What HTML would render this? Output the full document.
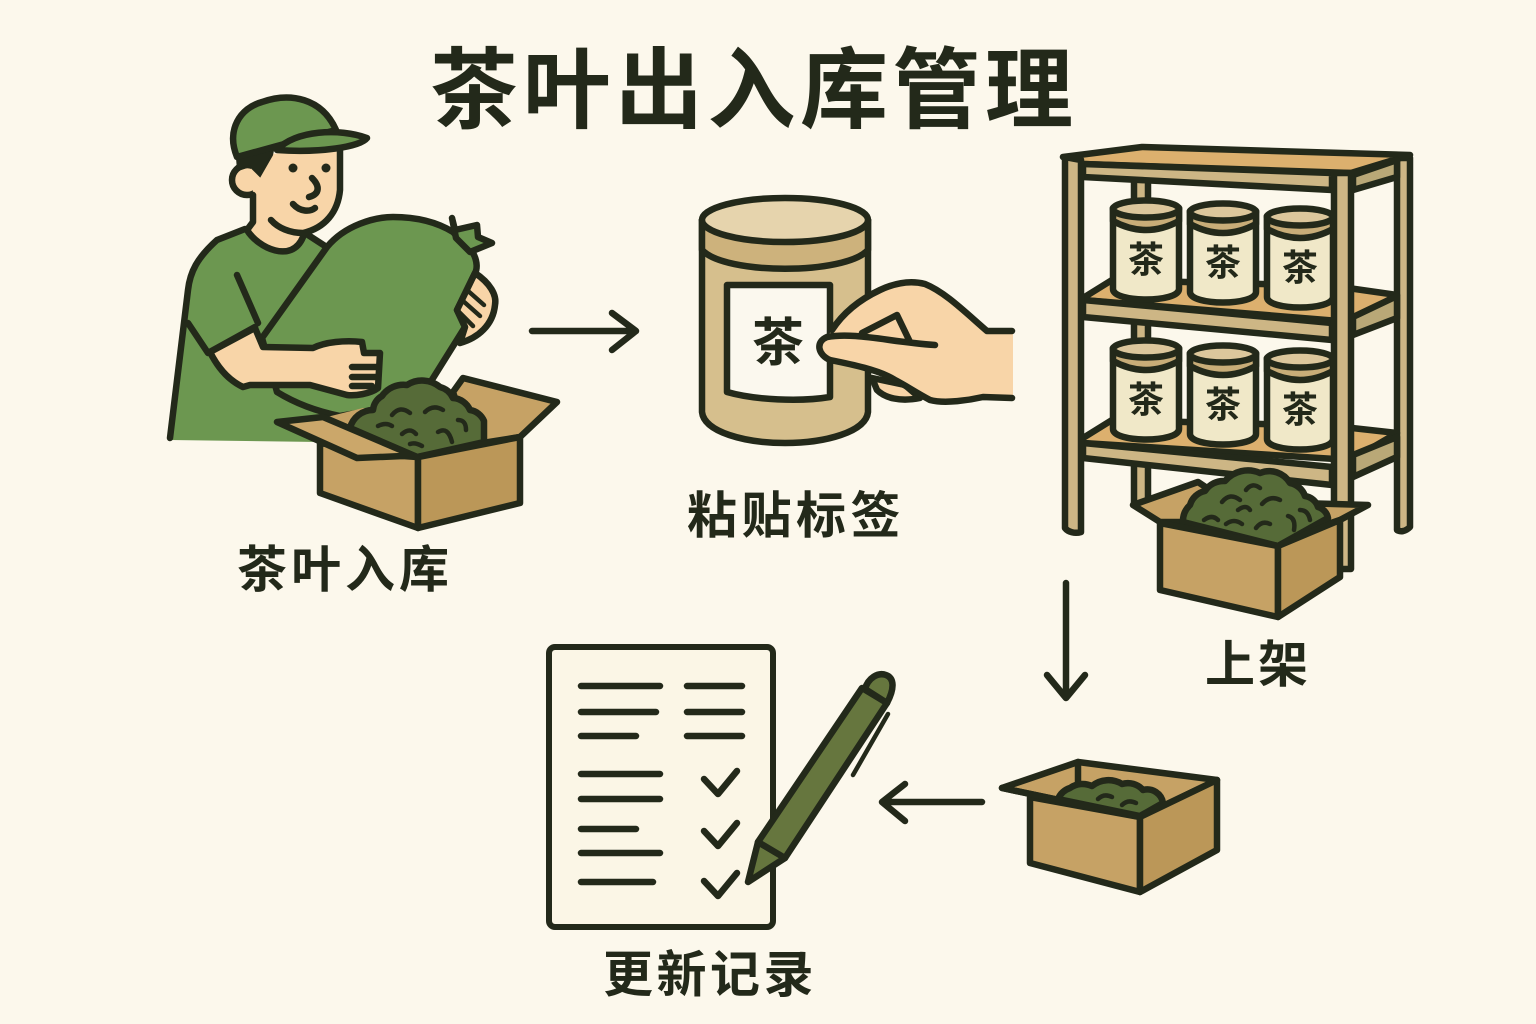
<!DOCTYPE html>
<html lang="zh"><head><meta charset="utf-8"><title>茶叶出入库管理</title>
<style>
html,body{margin:0;padding:0;background:#fcf8ec}
svg{display:block}
text{font-family:"Liberation Sans","Noto Sans CJK SC",sans-serif;fill:#23291a;font-weight:700}
.l{fill:none;stroke:#23291a;stroke-width:6.5;stroke-linecap:round;stroke-linejoin:round}
.s{stroke:#23291a;stroke-width:6.5;stroke-linejoin:round;stroke-linecap:round}
.t{fill:none;stroke:#23291a;stroke-width:4.5;stroke-linecap:round;stroke-linejoin:round}
.k{fill:#c6a265}.k2{fill:#bb9758}.w{fill:#cdb685}.o{fill:#dcb06e}
.g{fill:#6c9750}.p{fill:#566b38}.sk{fill:#f8d5a8}
</style></head><body>
<svg width="1536" height="1024" viewBox="0 0 1536 1024" xmlns="http://www.w3.org/2000/svg">
<defs>
<g id="jar">
<path class="s" fill="#f0e8c8" d="M-33 7V88C-33 102 33 102 33 88V7Z"/>
<path class="s" fill="#c8ad78" d="M-33 7V20Q0 38 33 20V7Z"/>
<ellipse class="s" cx="0" cy="8" rx="33" ry="8.5" fill="#dcc79c"/>
<text x="0" y="71" font-size="36" text-anchor="middle">茶</text>
</g>
</defs>
<rect width="1536" height="1024" fill="#fcf8ec"/>
<text x="430" y="121" font-size="88" letter-spacing="4.5">茶叶出入库管理</text>

<!-- worker -->
<path class="g" d="M170 440L188 290C190 272 197 258 217 237L243 228L307 233L327 247L340 420L320 442Z"/>
<path class="l" d="M170 438L188 290C190 272 197 258 217 240L245 229M305 233L325 246"/>
<circle class="s sk" cx="247" cy="180" r="15"/>
<path class="sk" d="M250 155L340 150V190C338 215 320 232 303 235C300 250 285 256 275 252C262 246 252 238 250 228L253 222V193Z"/>
<path class="l" d="M340 150V190C338 212 325 228 303 233C290 233 278 228 271 220M253 195V222L247 230C258 248 292 264 303 237"/>
<path fill="#23291a" stroke="#23291a" stroke-width="2" d="M237 158L274 146L272 155L260 176L250 166L238 170Z"/>
<path class="s g" d="M237 157C226 130 240 108 262 102C290 92 322 98 336 130L277 146Z"/>
<path class="s g" d="M277 150C295 130 340 128 367 138C360 147 320 153 277 150Z"/>
<circle cx="293" cy="168" r="4.5" fill="#23291a"/><circle cx="326" cy="168" r="4.5" fill="#23291a"/>
<path class="l" stroke-width="6" d="M312 178C320 186 320 194 309 197M293 204C300 212 310 212 315 208"/>
<path class="s g" d="M262 338L327 247C345 225 375 217 393 217C420 217 440 224 453 232L473 253C478 262 477 270 475 273L457 310L465 327L430 383L420 402L340 416C310 410 290 400 277 392Z"/>
<path class="s g" d="M452 218L455 230L477 225L478 237L492 243L470 252L456 238Z"/>
<path class="s sk" d="M475 273C490 283 497 295 495 305C493 325 478 338 460 343L465 327L457 310Z"/>
<path class="t" d="M467 290L484 305M462 300L480 316M459 312L473 326"/>
<path class="s sk" d="M210 352L255 328L263 347L313 348C325 342 345 340 362 342L364 353H380L378 388C370 394 355 396 347 395L310 385H250L243 387C228 380 218 368 210 352Z"/>
<path class="l" d="M237 275L258 323M188 323L208 353L255 327M352 367H377M352 377H376M352 386H372"/>

<!-- box 1 -->
<path class="s k" d="M463 378L557 402L520 437L470 445L453 392Z"/>
<path class="k" d="M323 418L363 408L480 420L418 457Z"/>
<path class="s p" d="M350 428A24 24 0 0 1 373 410A18 18 0 0 1 382 396A26 26 0 0 1 407 385A28 28 0 0 1 440 387A20 20 0 0 1 453 398A20 20 0 0 1 470 410A18 18 0 0 1 484 421V442L417 457Z"/>
<path class="t" stroke-width="3.5" d="M392 415q8 -10 18 -2M425 412q8 -8 18 -2M378 426q8 -4 14 0M402 434q8 -7 14 0M438 432q10 -6 14 10M410 444q5 -2 12 2M458 420q8 0 8 10"/>
<path class="s k" d="M320 443L418 457V528L320 493Z"/>
<path class="s k2" d="M418 457L520 437V503L418 528Z"/>
<path class="s" fill="#cba76a" d="M277 422L323 417L417 457L403 456L357 458Z"/>
<text x="237" y="587" font-size="50" letter-spacing="4">茶叶入库</text>

<!-- arrow 1 -->
<path class="l" d="M532 331H634M612 313L636 331L612 350"/>

<!-- jar large -->
<path class="s" fill="#d6bf8d" d="M702 220V412C704 432 745 443 785 443C825 443 866 432 868 412V220Z"/>
<path class="s" fill="#cdb27c" d="M702 220V250C725 275 845 275 868 250V220Z"/>
<ellipse class="s" cx="785" cy="220" rx="83" ry="22" fill="#e6d4ad"/>
<path class="s" fill="#fbf8ee" d="M727 285H830V397C800 402 755 400 727 392Z"/>
<text x="778" y="361" font-size="52" text-anchor="middle">茶</text>

<!-- hand -->
<path class="s sk" d="M872 378L877 390C885 398 900 402 920 398L905 385Z"/>
<path class="sk" d="M832 330C845 310 863 298 880 290C895 283 910 280 925 284C945 292 965 312 987 330H1013V398L983 397C970 400 945 404 930 400L903 383L870 367L830 360C820 356 817 345 820 342L827 337Z"/>
<path class="l" d="M832 330C845 310 863 298 880 290C895 283 910 280 925 284C945 292 965 312 987 331H1012M1012 398L983 397C970 400 945 404 930 400C915 392 905 385 895 380C880 370 850 364 830 360C818 355 815 342 827 337C855 332 890 342 935 345M862 333L897 315L910 342"/>

<!-- shelf: rear legs -->
<path class="s w" d="M1397 158H1410V527C1405 532 1400 532 1397 530Z"/>
<path class="s w" d="M1134 175H1148V505H1134Z"/>
<!-- top -->
<path class="s o" d="M1063 157L1142 147L1410 155L1351 173L1083 164Z"/>
<path class="s w" d="M1083 164L1332 173V190L1083 177Z"/>
<path class="s" fill="#b9a877" d="M1353 175L1397 160V177L1353 190Z"/>
<!-- mid 1 -->
<path class="s o" d="M1083 298L1112 280L1334 286L1397 295L1351 322L1083 300Z"/>
<path class="s w" d="M1083 300L1332 323V340L1083 317Z"/>
<path class="s" fill="#b9a877" d="M1353 317L1397 296V318L1353 335Z"/>
<!-- mid 2 -->
<path class="s o" d="M1083 438L1112 420L1334 426L1397 433L1351 460L1083 443Z"/>
<path class="s w" d="M1083 443L1332 467V485L1083 458Z"/>
<path class="s" fill="#b9a877" d="M1353 455L1397 437V457L1353 477Z"/>
<!-- jars -->
<use href="#jar" x="1146" y="201"/>
<use href="#jar" x="1223" y="204"/>
<use href="#jar" x="1300" y="209"/>
<use href="#jar" x="1146" y="341"/>
<use href="#jar" x="1223" y="346"/>
<use href="#jar" x="1300" y="351"/>
<!-- front legs -->
<path class="s w" d="M1334 173H1351V569H1334Z"/>
<path class="s w" d="M1065 157L1081 160V532C1075 534 1068 532 1065 528Z"/>

<!-- box under shelf -->
<path class="s k" d="M1133 505L1198 482L1210 490L1183 522H1160Z"/>
<path class="s k" d="M1300 503L1368 505L1340 520L1310 530Z"/>
<path class="s p" d="M1183 522A22 22 0 0 1 1190 505A20 20 0 0 1 1205 491A22 22 0 0 1 1225 481A30 30 0 0 1 1260 473A24 24 0 0 1 1290 483A20 20 0 0 1 1305 496A16 16 0 0 1 1318 507A14 14 0 0 1 1328 518L1278 546Z"/>
<path class="t" stroke-width="3.5" d="M1222 502q8 -10 18 -2M1246 490q6 -8 14 -2M1262 504q8 -9 18 -4M1238 510q8 -6 12 0M1204 520q8 -6 14 0M1226 524q8 -6 16 0M1256 528q6 -8 14 -4M1288 516q8 2 6 14M1300 510q8 0 10 10"/>
<path class="s k" d="M1160 523L1278 546V617L1160 590Z"/>
<path class="s k2" d="M1278 546L1340 520V577L1278 617Z"/>
<text x="1205" y="682" font-size="50" letter-spacing="3">上架</text>

<!-- arrow 2 -->
<path class="l" d="M1066 583V696M1047 675L1066 698L1085 675"/>

<!-- small box -->
<path class="s k" d="M1002 788L1078 762L1217 780L1140 817Z"/>
<path class="l" d="M1078 762V790"/>
<path class="s p" d="M1058 799A20 20 0 0 1 1070 788A22 22 0 0 1 1092 786A26 26 0 0 1 1122 784A20 20 0 0 1 1143 790A16 16 0 0 1 1163 803L1140 816Z"/>
<path class="t" stroke-width="3.5" d="M1098 799q6 -6 14 -2M1122 805q6 -6 14 -2"/>
<path class="s k" d="M1030 797L1140 817V892L1030 863Z"/>
<path class="s k2" d="M1140 817L1217 780V850L1140 892Z"/>
<path class="l" d="M1002 788L1140 817"/>

<!-- arrow 3 -->
<path class="l" d="M982 802H884M905 784L882 802L905 821"/>

<!-- document -->
<rect x="549" y="647" width="224" height="280" rx="6" fill="#fbf6e6" stroke="#23291a" stroke-width="6"/>
<path class="l" d="M581 686H660M581 712H656M581 736H636M687 686H742M687 712H742M687 736H742M581 774H660M581 799H660M581 829H636M581 853H660M581 882H653"/>
<path class="l" d="M704 779L718 794L737 771M704 831L718 846L737 823M704 881L718 896L737 873"/>

<!-- pen -->
<path class="s" fill="#66763e" d="M748 882L758 842L785 858Z"/>
<path class="s" fill="#66763e" d="M758 842L862 688L887 703L785 858Z"/>
<path class="s" fill="#66763e" d="M865 689C868 678 878 672 886 675C894 678 895 688 887 703Z"/>
<path class="t" stroke-width="5" d="M888 714L853 775"/>

<text x="603" y="992" font-size="50" letter-spacing="3.5">更新记录</text>
<text x="687" y="533" font-size="50" letter-spacing="4.5">粘贴标签</text>
</svg>
</body></html>
